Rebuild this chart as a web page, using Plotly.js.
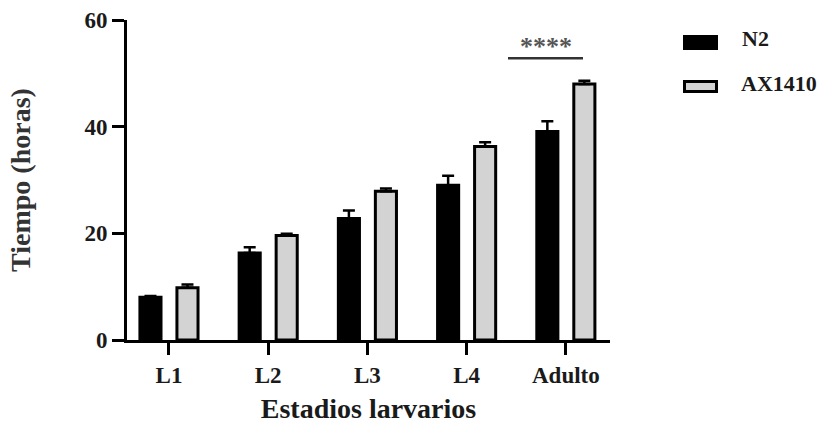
<!DOCTYPE html>
<html>
<head>
<meta charset="utf-8">
<script src="https://cdn.plot.ly/plotly-3.0.1.min.js"></script>
<style>
html,body{margin:0;padding:0;background:#fff;}
#chart{width:825px;height:424px;}
</style>
</head>
<body>
<div id="chart"></div>
<script>
// Data
const categories = ["L1", "L2", "L3", "L4", "Adulto"];
const seriesNames = ["N2", "AX1410"];
const n2Values = [8.0, 16.3, 22.8, 29.0, 39.1];
const n2Errors = [0.25, 1.1, 1.5, 1.8, 1.9];
const axValues = [9.8, 19.6, 27.9, 36.3, 48.0];
const axErrors = [0.6, 0.3, 0.5, 0.8, 0.6];
const yTicks = [0, 20, 40, 60];
const significance = "****";
const xTitle = "Estadios larvarios";
const yTitle = "Tiempo (horas)";

const serif = "Liberation Serif";
const W = 825, H = 424;
const M = {l: 127, r: 215, t: 20, b: 84};
const pw = W - M.l - M.r, ph = H - M.t - M.b;
// pixel -> paper helpers for decoration placement
const px = x => (x - M.l) / pw;
const py = y => (H - M.b - y) / ph;

const traces = [
  {
    type: "bar", name: seriesNames[0], x: categories, y: n2Values,
    marker: {color: "#000000", line: {color: "#000000", width: 3}},
    error_y: {type: "data", symmetric: false, array: n2Errors, arrayminus: n2Errors.map(() => 0),
              color: "#000000", thickness: 2.5, width: 6}
  },
  {
    type: "bar", name: seriesNames[1], x: categories, y: axValues,
    marker: {color: "#d3d3d3", line: {color: "#000000", width: 3}},
    error_y: {type: "data", symmetric: false, array: axErrors, arrayminus: axErrors.map(() => 0),
              color: "#000000", thickness: 2.5, width: 6}
  }
];

const tickFont = {family: serif, size: 23, color: "#1a1a1a", weight: "bold"};

const layout = {
  width: W, height: H,
  margin: M,
  font: {family: serif, weight: "bold"},
  paper_bgcolor: "#ffffff", plot_bgcolor: "#ffffff",
  showlegend: false,
  barmode: "group", bargap: 0.254, bargroupgap: 0.43,
  xaxis: {
    type: "category", range: [-0.423, 4.445],
    showline: true, linecolor: "#000", linewidth: 3,
    ticks: "outside", ticklen: 12, tickwidth: 3, tickcolor: "#000",
    showgrid: false, zeroline: false, tickfont: tickFont,
    title: {text: xTitle, font: {family: serif, size: 28, color: "#1a1a1a", weight: "bold"}, standoff: 14}
  },
  yaxis: {
    range: [0, 60], tickvals: yTicks, ticktext: yTicks.map(String),
    showline: true, linecolor: "#000", linewidth: 3,
    ticks: "outside", ticklen: 12, tickwidth: 3, tickcolor: "#000",
    showgrid: false, zeroline: false, tickfont: tickFont,
    title: {text: yTitle, font: {family: serif, size: 28, color: "#333", weight: "bold"}, standoff: 46}
  },
  shapes: [
    {type: "line", xref: "paper", yref: "paper", x0: px(508), x1: px(583), y0: py(58.3), y1: py(58.3),
     line: {color: "#333", width: 2.5}},
    {type: "rect", xref: "paper", yref: "paper", x0: px(683), x1: px(718), y0: py(50), y1: py(35),
     fillcolor: "#000", line: {color: "#000", width: 0}},
    {type: "rect", xref: "paper", yref: "paper", x0: px(684.5), x1: px(716.5), y0: py(91.5), y1: py(81.5),
     fillcolor: "#d3d3d3", line: {color: "#000", width: 3}}
  ],
  annotations: [
    {xref: "paper", yref: "paper", x: px(546), y: py(46), text: significance, showarrow: false,
     xanchor: "center", yanchor: "middle", font: {family: serif, size: 26, color: "#555", weight: "bold"}},
    {xref: "paper", yref: "paper", x: px(740), y: py(38), text: seriesNames[0], showarrow: false,
     xanchor: "left", yanchor: "middle", font: {family: serif, size: 22, color: "#1a1a1a", weight: "bold"}},
    {xref: "paper", yref: "paper", x: px(739), y: py(83), text: seriesNames[1], showarrow: false,
     xanchor: "left", yanchor: "middle", font: {family: serif, size: 22, color: "#1a1a1a", weight: "bold"}}
  ]
};

Plotly.newPlot("chart", traces, layout, {displayModeBar: false});
</script>
</body>
</html>
